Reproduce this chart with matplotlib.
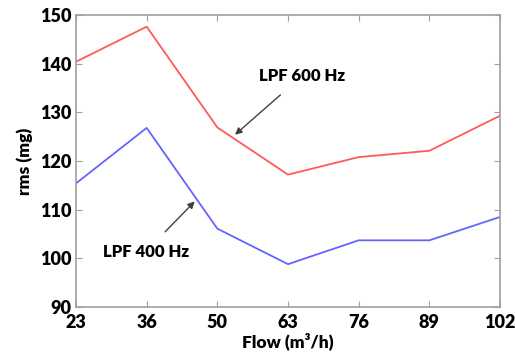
import matplotlib.pyplot as plt

flow = ['23', '36', '50', '63', '76', '89', '102']
lpf600 = [140.4, 147.6, 126.9, 117.2, 120.8, 122.1, 129.3]
lpf400 = [115.4, 126.8, 106.1, 98.8, 103.7, 103.7, 108.5]
yticks = [90, 100, 110, 120, 130, 140, 150]

plt.rcParams['font.family'] = ['Lato', 'DejaVu Sans']

fig = plt.figure(figsize=(5.15, 3.54), dpi=100)
ax = fig.add_axes([76 / 515, 1 - 307 / 354, 424 / 515, 292 / 354])

x = list(range(len(flow)))
ax.plot(x, lpf600, color='#ff5a5a', linewidth=1.3)
ax.plot(x, lpf400, color='#6464ff', linewidth=1.3)

ax.set_xlim(0, len(flow) - 1)
ax.set_ylim(90, 150)
ax.set_xticks(x)
ax.set_xticklabels(flow)
ax.set_yticks(yticks)

for s in ax.spines.values():
    s.set_color('#a0a0a0')
    s.set_linewidth(1.2)
ax.tick_params(direction='in', length=4, color='#a0a0a0', top=True, right=True,
               labelsize=13)
ax.tick_params(axis='x', pad=5)
ax.tick_params(axis='y', pad=3)
for lab in ax.get_xticklabels() + ax.get_yticklabels():
    lab.set_fontweight('heavy')

ax.set_xlabel('Flow (m³/h)', fontsize=12.5, fontweight='heavy', labelpad=1)
ax.set_ylabel('rms (mg)', fontsize=12.5, fontweight='heavy', labelpad=5)

ax.annotate('LPF 600 Hz', xy=(2.25, 125.4), xytext=(3.2, 137.5),
            ha='center', va='center', fontsize=12, fontweight='heavy',
            arrowprops=dict(arrowstyle='-|>', color='#404040', lw=1.0,
                            shrinkA=9, shrinkB=0, mutation_scale=10))
ax.annotate('LPF 400 Hz', xy=(1.68, 111.7), xytext=(0.99, 101.4),
            ha='center', va='center', fontsize=12, fontweight='heavy',
            arrowprops=dict(arrowstyle='-|>', color='#404040', lw=1.0,
                            shrinkA=9, shrinkB=0, mutation_scale=10))

fig.savefig('out.png', dpi=100)
